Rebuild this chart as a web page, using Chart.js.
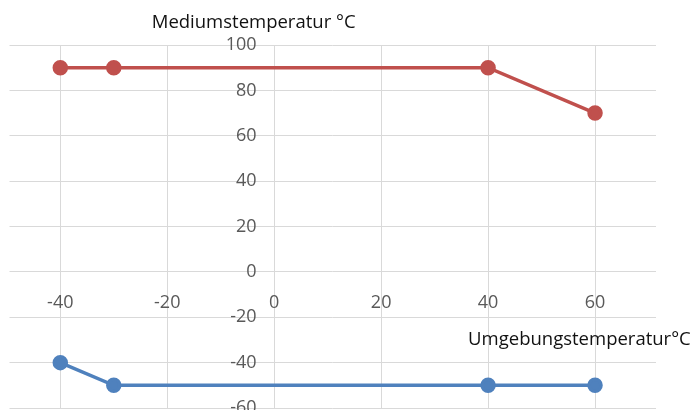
<!DOCTYPE html>
<html>
<head>
<meta charset="utf-8">
<script src="https://cdn.jsdelivr.net/npm/chart.js@4/dist/chart.umd.min.js"></script>
<style>
  html, body { margin: 0; padding: 0; background: #fff; width: 694px; height: 410px; overflow: hidden; }
</style>
</head>
<body>
<canvas id="c" width="694" height="430"></canvas>
<script>
// Umgebungstemperatur (x) and Mediumstemperatur limits (y)
const umgebung = [-40, -30, 40, 60];
const maxMedium = [90, 90, 90, 70];
const minMedium = [-40, -50, -50, -50];
const xTicks = [-40, -20, 0, 20, 40, 60];
const yTicks = [-60, -40, -20, 0, 20, 40, 60, 80, 100];
const xTitle = 'Umgebungstemperatur°C';
const yTitle = 'Mediumstemperatur °C';

const FONT = '"Open Sans", "Noto Sans", sans-serif';
const gridColor = '#d9d9d9';

const toPoints = ys => umgebung.map((x, i) => ({ x: x, y: ys[i] }));

// axis titles, placed from the scales
const axisTitles = {
  id: 'axisTitles',
  afterDraw(chart) {
    const ctx = chart.ctx;
    const xs = chart.scales.x, ys = chart.scales.y;
    ctx.save();
    ctx.font = '18.5px ' + FONT;
    ctx.fillStyle = '#111';
    ctx.textBaseline = 'alphabetic';
    ctx.textAlign = 'left';
    ctx.fillText(yTitle, xs.getPixelForValue(-22.9), ys.top - 17);
    ctx.textAlign = 'right';
    ctx.fillText(xTitle, xs.getPixelForValue(77.9), ys.getPixelForValue(-32.2));
    ctx.restore();
  }
};

new Chart(document.getElementById('c'), {
  type: 'scatter',
  data: {
    datasets: [{
      label: 'max',
      data: toPoints(maxMedium),
      showLine: true,
      borderColor: '#c0504d',
      backgroundColor: '#c0504d',
      borderWidth: 3.5,
      pointRadius: 6,
      pointHoverRadius: 6
    }, {
      label: 'min',
      data: toPoints(minMedium),
      showLine: true,
      borderColor: '#4f81bd',
      backgroundColor: '#4f81bd',
      borderWidth: 3.5,
      pointRadius: 6,
      pointHoverRadius: 6
    }]
  },
  options: {
    responsive: false,
    animation: false,
    devicePixelRatio: 1,
    layout: { padding: { left: 7, right: 38, top: 45, bottom: 22 } },
    plugins: {
      legend: { display: false },
      tooltip: { enabled: false }
    },
    scales: {
      x: {
        type: 'linear',
        min: -49.5,
        max: 71.4,
        // labels sit a little below the 0 line
        position: { y: -8.9 },
        afterBuildTicks: s => { s.ticks = xTicks.map(v => ({ value: v })); },
        grid: { color: gridColor, lineWidth: 1, drawTicks: false },
        border: { display: false },
        ticks: { color: '#595959', font: { family: FONT, size: 18 }, padding: 0 }
      },
      y: {
        type: 'linear',
        min: -60,
        max: 100,
        // labels end a little left of the 0 line
        position: { x: -3.3 },
        afterBuildTicks: s => { s.ticks = yTicks.map(v => ({ value: v })); },
        grid: { color: gridColor, lineWidth: 1, drawTicks: false },
        border: { display: false },
        ticks: { color: '#595959', font: { family: FONT, size: 18 }, padding: 0 }
      }
    }
  },
  plugins: [axisTitles]
});
</script>
</body>
</html>
